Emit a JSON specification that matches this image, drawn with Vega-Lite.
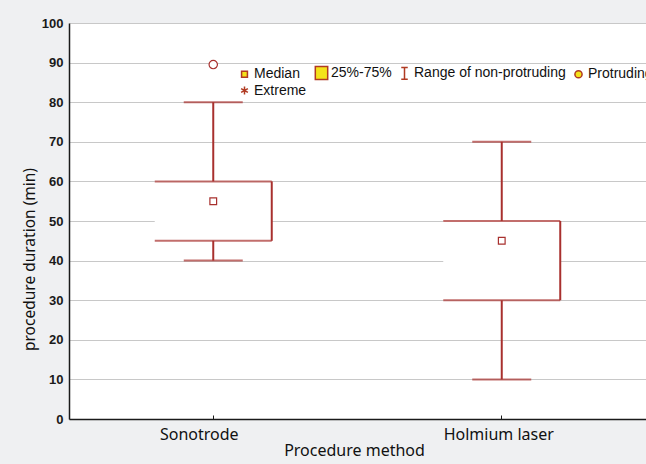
{
  "$schema": "https://vega.github.io/schema/vega-lite/v6.json",
  "width": 577,
  "height": 396,
  "autosize": {"type": "none"},
  "padding": {"left": 69, "top": 23, "right": 0, "bottom": 45},
  "background": "#eff0f2",
  "config": {
    "view": {"fill": "white", "stroke": null},
    "axis": {"domainColor": "#1a1a1a", "domainWidth": 1.5},
    "axisY": {
      "tickCount": 10,
      "grid": true,
      "gridColor": "#c8c8c8",
      "gridWidth": 1.2,
      "ticks": false,
      "labelFont": "Liberation Sans",
      "labelFontSize": 13,
      "labelFontWeight": "bold",
      "labelColor": "#1a1a1a",
      "labelPadding": 6,
      "labelOverlap": false
    },
    "legend": {
      "orient": "none",
      "legendX": 168,
      "legendY": 42,
      "direction": "horizontal",
      "columns": 4,
      "columnPadding": 5,
      "rowPadding": 0,
      "labelFont": "Liberation Sans",
      "labelFontSize": 14,
      "labelColor": "#111",
      "labelOffset": 2,
      "symbolSize": 170,
      "symbolStrokeWidth": 1.5,
      "symbolOpacity": 1
    }
  },
  "datasets": {
    "boxes": [
      {"method": "Sonotrode", "lo": 40, "q1": 45, "q3": 60, "hi": 80},
      {"method": "Holmium laser", "lo": 10, "q1": 30, "q3": 50, "hi": 70}
    ],
    "points": [
      {"method": "Sonotrode", "kind": "Median", "value": 55},
      {"method": "Holmium laser", "kind": "Median", "value": 45},
      {"method": "Sonotrode", "kind": "Protruding", "value": 89.5}
    ]
  },
  "encoding": {
    "x": {
      "field": "method",
      "type": "nominal",
      "sort": ["Sonotrode", "Holmium laser"],
      "scale": {"paddingInner": 0, "paddingOuter": 0},
      "axis": {
        "title": "Procedure method",
        "labelAngle": 0,
        "labelFont": "Noto Sans",
        "labelFontSize": 16,
        "labelColor": "#111",
        "labelPadding": 11,
        "labelOffset": {"condition": {"test": "datum.value === 'Sonotrode'", "value": -14}, "value": -3},
        "tickSize": -4,
        "tickColor": "#1a1a1a",
        "titleFont": "Noto Sans",
        "titleFontSize": 16,
        "titleFontWeight": "normal",
        "titleColor": "#111",
        "titlePadding": 0,
        "titleX": 285
      }
    }
  },
  "layer": [
    {
      "data": {"name": "boxes"},
      "mark": {"type": "rule", "color": "#a8302e", "strokeWidth": 2},
      "encoding": {
        "y": {
          "field": "lo",
          "type": "quantitative",
          "scale": {"domain": [0, 100], "nice": false},
          "axis": {
            "title": "procedure duration (min)",
            "titleFont": "Noto Sans",
            "titleFontSize": 15.5,
            "titleFontWeight": "normal",
            "titleColor": "#111",
            "titleX": -32,
            "titleY": 236
          }
        },
        "y2": {"field": "hi"}
      }
    },
    {
      "data": {"name": "boxes"},
      "mark": {"type": "bar", "fill": "white", "size": 117},
      "encoding": {
        "y": {"field": "q1", "type": "quantitative"},
        "y2": {"field": "q3"}
      }
    },
    {
      "data": {"name": "boxes"},
      "mark": {"type": "tick", "color": "#a8302e", "thickness": 2, "size": 117, "orient": "horizontal"},
      "encoding": {"y": {"field": "q1", "type": "quantitative"}}
    },
    {
      "data": {"name": "boxes"},
      "mark": {"type": "tick", "color": "#a8302e", "thickness": 2, "size": 117, "orient": "horizontal"},
      "encoding": {"y": {"field": "q3", "type": "quantitative"}}
    },
    {
      "data": {"name": "boxes"},
      "mark": {"type": "rule", "color": "#a8302e", "strokeWidth": 2, "xOffset": 58.5},
      "encoding": {
        "y": {"field": "q1", "type": "quantitative"},
        "y2": {"field": "q3"}
      }
    },
    {
      "data": {"name": "boxes"},
      "mark": {"type": "tick", "color": "#a8302e", "thickness": 2, "size": 59, "orient": "horizontal"},
      "encoding": {"y": {"field": "lo", "type": "quantitative"}}
    },
    {
      "data": {"name": "boxes"},
      "mark": {"type": "tick", "color": "#a8302e", "thickness": 2, "size": 59, "orient": "horizontal"},
      "encoding": {"y": {"field": "hi", "type": "quantitative"}}
    },
    {
      "mark": {"type": "rule", "color": "#1a1a1a", "strokeWidth": 1.5},
      "encoding": {"y": {"datum": 100, "type": "quantitative"}}
    },
    {
      "data": {"name": "points"},
      "transform": [{"filter": "datum.kind === 'Median'"}],
      "mark": {"type": "point", "shape": "square", "filled": true, "fill": "white", "stroke": "#a8302e", "strokeWidth": 1.2, "opacity": 1, "size": 45},
      "encoding": {"y": {"field": "value", "type": "quantitative"}}
    },
    {
      "data": {"name": "points"},
      "transform": [{"filter": "datum.kind === 'Protruding'"}],
      "mark": {"type": "point", "shape": "circle", "filled": true, "fill": "white", "stroke": "#a8302e", "strokeWidth": 1.2, "opacity": 1, "size": 70},
      "encoding": {"y": {"field": "value", "type": "quantitative"}}
    },
    {
      "data": {"name": "points"},
      "mark": {"type": "point", "filled": true, "stroke": "#b03a22", "strokeWidth": 1.5, "opacity": 0, "size": 170},
      "encoding": {
        "y": {"field": "value", "type": "quantitative"},
        "fill": {
          "field": "kind",
          "type": "nominal",
          "scale": {
            "domain": ["Median", "25%-75%", "Range of non-protruding", "Protruding", "Extreme"],
            "range": ["#f4e21a", "#f4e21a", "#f4e21a", "#f4e21a", "#e8a020"]
          },
          "legend": {"title": null}
        },
        "shape": {
          "field": "kind",
          "type": "nominal",
          "scale": {
            "domain": ["Median", "25%-75%", "Range of non-protruding", "Protruding", "Extreme"],
            "range": [
              "M-0.45,-0.45H0.45V0.45H-0.45Z",
              "M-0.95,-1H0.95V1H-0.95Z",
              "M-0.5,-0.9H0.5M0,-0.9V0.9M-0.5,0.9H0.5",
              "M-0.55,0A0.55,0.55 0 1,0 0.55,0A0.55,0.55 0 1,0 -0.55,0Z",
              "M0,-0.6V0.6M-0.52,-0.3L0.52,0.3M-0.52,0.3L0.52,-0.3"
            ]
          },
          "legend": {"title": null}
        }
      }
    }
  ]
}
